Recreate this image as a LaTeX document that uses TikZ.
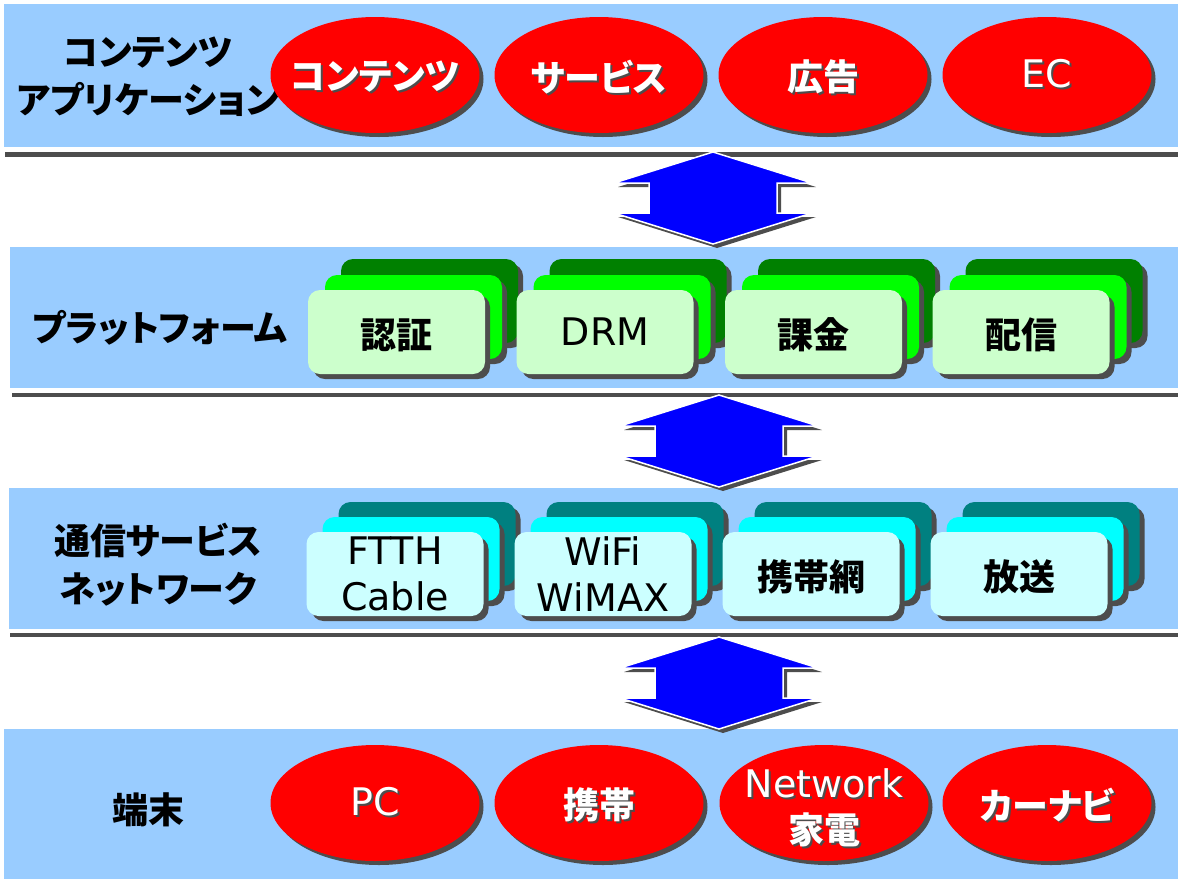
\documentclass[tikz,border=0pt]{standalone}
\usepackage{fontspec}
\setmainfont{DejaVu Sans}
\newfontfamily\jp{Noto Sans CJK JP}[RawFeature=+palt]
\usetikzlibrary{shapes.geometric,shadows}
\definecolor{bandblue}{HTML}{99CCFF}
\definecolor{shgray}{HTML}{4D4D4D}
\definecolor{lgreen}{HTML}{CCFFCC}
\definecolor{mgreen}{HTML}{00FF00}
\definecolor{dgreen}{HTML}{008000}
\definecolor{lcyan}{HTML}{CCFFFF}
\definecolor{mcyan}{HTML}{00FFFF}
\definecolor{dteal}{HTML}{008080}
\definecolor{arrblue}{HTML}{0000FF}
\newcommand{\sht}[1]{\leavevmode\rlap{\kern2pt\raisebox{-2pt}{\textcolor{shgray}{#1}}}#1}
\newcommand{\fsz}{\fontsize{38}{46}\selectfont}
\newcommand{\fszj}{\fontsize{36}{46}\selectfont}
\begin{document}
\begin{tikzpicture}[x=1pt,y=-1pt,
  band/.style={fill=bandblue},
  sepline/.style={fill=shgray},
  ell/.style={ellipse, fill=red, minimum width=209pt, minimum height=116pt, inner sep=0pt,
     drop shadow={shadow xshift=4pt, shadow yshift=-4pt, fill=shgray, opacity=1}},
  box/.style={rounded corners=12pt, minimum width=177pt, minimum height=84pt, inner sep=0pt,
     drop shadow={shadow xshift=5pt, shadow yshift=-5pt, fill=shgray, opacity=1}},
  lbl/.style={font=\fontsize{36}{48}\selectfont\jp\bfseries, align=center, text=black, yshift=-3pt},
  etxtjp/.style={font=\fszj\jp\bfseries, align=center, text=white, yshift=-3pt},
  etxt/.style={font=\fsz, align=center, text=white},
  btxtjp/.style={font=\fszj\jp\bfseries, align=center, text=black, yshift=-3pt},
  btxt/.style={font=\fsz, align=center, text=black},
  dblarrow/.pic={
    \fill[shgray] (4,4) -- (-95,35) -- (-60,35) -- (-60,65) -- (-95,65) -- (4,96) -- (103,65) -- (68,65) -- (68,35) -- (103,35) -- cycle;
    \filldraw[fill=arrblue, draw=white, line width=1.5pt, line join=miter]
      (0,0) -- (-99,31) -- (-64,31) -- (-64,61) -- (-99,61) -- (0,92) -- (99,61) -- (64,61) -- (64,31) -- (99,31) -- cycle;
  }]
\useasboundingbox (0,0) rectangle (1178,879);
\fill[white] (0,0) rectangle (1178,879);
% bands
\fill[band] (4,4) rectangle (1178,147);
\fill[band] (10,247) rectangle (1178,388);
\fill[band] (9,488) rectangle (1178,629);
\fill[band] (4,729) rectangle (1178,879);
% separator lines
\fill[sepline] (5,152) rectangle (1178,157);
\fill[sepline] (12,393) rectangle (1178,397);
\fill[sepline] (10,633) rectangle (1178,637);
% arrows
\pic at (713,152) {dblarrow};
\pic at (719,395) {dblarrow};
\pic at (719,637) {dblarrow};
% layer labels
\node[lbl] (L1) at (148,74) {コンテンツ\\アプリケーション};
\node[lbl] (L2) at (160,325) {プラットフォーム};
\node[lbl] (L3) at (158,562) {通信サービス\\ネットワーク};
\node[lbl] (L4) at (148,807) {端末};
% top ellipses
\node[ell] (E1) at (375,75) {};
\node[ell] (E2) at (599,75) {};
\node[ell] (E3) at (823,75) {};
\node[ell] (E4) at (1047,75) {};
\node[etxtjp] (T1) at (E1) {\sht{コンテンツ}};
\node[etxtjp] (T2) at (E2) {\sht{サービス}};
\node[etxtjp] (T3) at (E3) {\sht{広告}};
\node[etxt] (T4) at (E4) {\sht{EC}};
% bottom ellipses
\node[ell] (F1) at (375,803) {};
\node[ell] (F2) at (599,803) {};
\node[ell] (F3) at (824,803) {};
\node[ell] (F4) at (1047,803) {};
\node[etxt] (U1) at (F1) {\sht{PC}};
\node[etxtjp] (U2) at (F2) {\sht{携帯}};
\node[etxt, yshift=-6pt] (U3) at (F3) {\sht{Network}\\{\fszj\jp\bfseries\sht{家電}}};
\node[etxtjp] (U4) at (F4) {\sht{カーナビ}};
% platform boxes
\foreach \i/\cx in {1/396.5, 2/605, 3/813.5, 4/1021}{
  \node[box, fill=dgreen] (Pb\i) at (\cx+33,332-31) {};
  \node[box, fill=mgreen] (Pm\i) at (\cx+17,332-15) {};
  \node[box, fill=lgreen] (P\i) at (\cx,332) {};
}
\node[btxtjp] (PT1) at (P1) {認証};
\node[btxt] (PT2) at (P2) {DRM};
\node[btxtjp] (PT3) at (P3) {課金};
\node[btxtjp] (PT4) at (P4) {配信};
% network boxes
\foreach \i/\cx in {1/395, 2/603, 3/811, 4/1019}{
  \node[box, fill=dteal] (Nb\i) at (\cx+32,574-30) {};
  \node[box, fill=mcyan] (Nm\i) at (\cx+16,574-15) {};
  \node[box, fill=lcyan] (N\i) at (\cx,574) {};
}
\node[btxt] (NT1) at (N1) {FTTH\\Cable};
\node[btxt] (NT2) at (N2) {WiFi\\WiMAX};
\node[btxtjp] (NT3) at (N3) {携帯網};
\node[btxtjp] (NT4) at (N4) {放送};
\end{tikzpicture}
\end{document}
